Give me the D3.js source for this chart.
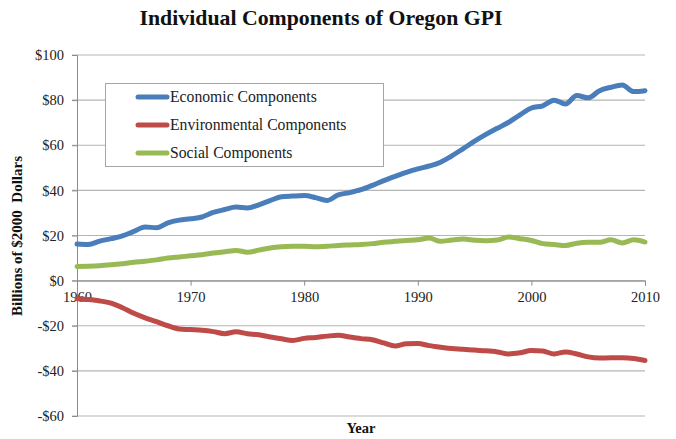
<!DOCTYPE html>
<html><head><meta charset="utf-8">
<script src="https://cdn.jsdelivr.net/npm/d3@7"></script>
<style>body{margin:0;background:#fff}svg{display:block}</style>
</head><body>
<svg id="c" width="676" height="439"></svg>
<script>
const years = d3.range(1960, 2011);
const economic = [16.2,16.0,17.5,18.6,19.8,21.8,23.8,23.4,25.6,26.8,27.4,28.2,30.2,31.5,32.6,32.2,33.6,35.5,37.2,37.5,37.7,36.8,35.5,38.0,39.0,40.3,42.2,44.3,46.2,48.0,49.5,50.8,52.5,55.3,58.5,61.8,64.8,67.5,70.2,73.5,76.5,77.5,80.0,78.3,82.0,81.0,84.2,85.7,86.7,83.8,84.2];
const environmental = [-8.0,-8.4,-9.0,-10.0,-12.0,-14.5,-16.5,-18.2,-20.0,-21.4,-21.7,-22.0,-22.6,-23.5,-22.7,-23.5,-24.0,-25.0,-25.8,-26.5,-25.6,-25.2,-24.6,-24.2,-25.0,-25.7,-26.2,-27.6,-29.0,-28.0,-27.9,-28.8,-29.5,-30.1,-30.4,-30.8,-31.1,-31.6,-32.5,-32.0,-31.0,-31.2,-32.5,-31.6,-32.5,-33.8,-34.3,-34.2,-34.2,-34.5,-35.4];
const social = [6.3,6.4,6.6,7.0,7.5,8.1,8.6,9.2,10.0,10.5,11.0,11.5,12.2,12.8,13.4,12.6,13.5,14.5,15.0,15.2,15.2,15.0,15.2,15.6,15.8,16.0,16.4,17.0,17.4,17.8,18.1,18.9,17.4,18.0,18.4,17.9,17.7,18.0,19.3,18.6,17.8,16.4,16.0,15.6,16.6,17.0,17.0,18.1,16.7,18.1,17.1];
const seriesNames = ["Economic Components","Environmental Components","Social Components"];
const seriesColors = ["#4a7ebb","#be4b48","#98b954"];
const yTicks = [-60,-40,-20,0,20,40,60,80,100];
const xTicks = [1960,1970,1980,1990,2000,2010];
const titleText = "Individual Components of Oregon GPI";
const yTitle = "Billions of $2000  Dollars";
const xTitle = "Year";

const svg = d3.select("#c");
const font = "'Liberation Serif', 'DejaVu Serif', serif";
const m = {l:77, r:645, t:55, b:416};
const x = d3.scaleLinear().domain([1960,2010]).range([m.l, m.r]);
const y = d3.scaleLinear().domain([-60,100]).range([m.b, m.t]);

// gridlines
svg.append("g").selectAll("line").data(yTicks).join("line")
  .attr("x1", m.l-5).attr("x2", m.r).attr("y1", d=>y(d)).attr("y2", d=>y(d))
  .attr("stroke", "#b5b5b5").attr("stroke-width", 1.2);

// y axis
const ya = svg.append("g").attr("transform", `translate(${m.l},0)`)
  .call(d3.axisLeft(y).tickValues(yTicks).tickSize(5).tickPadding(8)
    .tickFormat(d => d < 0 ? "-$" + (-d) : "$" + d));
ya.select(".domain").attr("stroke", "#8c8c8c");
ya.selectAll(".tick line").attr("stroke", "#8c8c8c");
ya.selectAll("text").attr("font-family", font).attr("font-size", 14.5).attr("fill", "#222");

// x axis at zero
const xa = svg.append("g").attr("transform", `translate(0,${y(0)})`)
  .call(d3.axisBottom(x).tickValues(xTicks).tickSize(5).tickPadding(6).tickFormat(d3.format("d")));
xa.select(".domain").attr("stroke", "#8c8c8c");
xa.selectAll(".tick line").attr("stroke", "#8c8c8c");
xa.selectAll("text").attr("font-family", font).attr("font-size", 14.5).attr("fill", "#222");

// lines
const line = d3.line().x((d,i)=>x(years[i])).y(d=>y(d)).curve(d3.curveMonotoneX);
[economic, environmental, social].forEach((s,k) => {
  svg.append("path").datum(s).attr("d", line).attr("fill","none")
    .attr("stroke", seriesColors[k]).attr("stroke-width", 5).attr("stroke-linejoin","round").attr("stroke-linecap","round");
});

// legend
const lg = svg.append("g");
lg.append("rect").attr("x",105.5).attr("y",83.5).attr("width",278).attr("height",83)
  .attr("fill","#fff").attr("stroke","#a6a6a6");
seriesNames.forEach((n,k) => {
  const yy = 97 + k*28;
  lg.append("line").attr("x1",138).attr("x2",167).attr("y1",yy).attr("y2",yy)
    .attr("stroke", seriesColors[k]).attr("stroke-width",5).attr("stroke-linecap","round");
  lg.append("text").attr("x",170).attr("y",yy+5).text(n)
    .attr("font-family", font).attr("font-size", 15.7).attr("fill","#222");
});

// titles
svg.append("text").attr("x", 321).attr("y", 25).attr("text-anchor","middle").text(titleText)
  .attr("font-family", font).attr("font-weight","bold").attr("font-size", 21.8).attr("fill","#111");
svg.append("text").attr("transform","translate(22,236) rotate(-90)").attr("text-anchor","middle").text(yTitle)
  .attr("font-family", font).attr("font-weight","bold").attr("font-size", 15).attr("fill","#111")
  .style("white-space","pre");
svg.append("text").attr("x", 361).attr("y", 433).attr("text-anchor","middle").text(xTitle)
  .attr("font-family", font).attr("font-weight","bold").attr("font-size", 14.5).attr("fill","#111");
</script>
</body></html>
